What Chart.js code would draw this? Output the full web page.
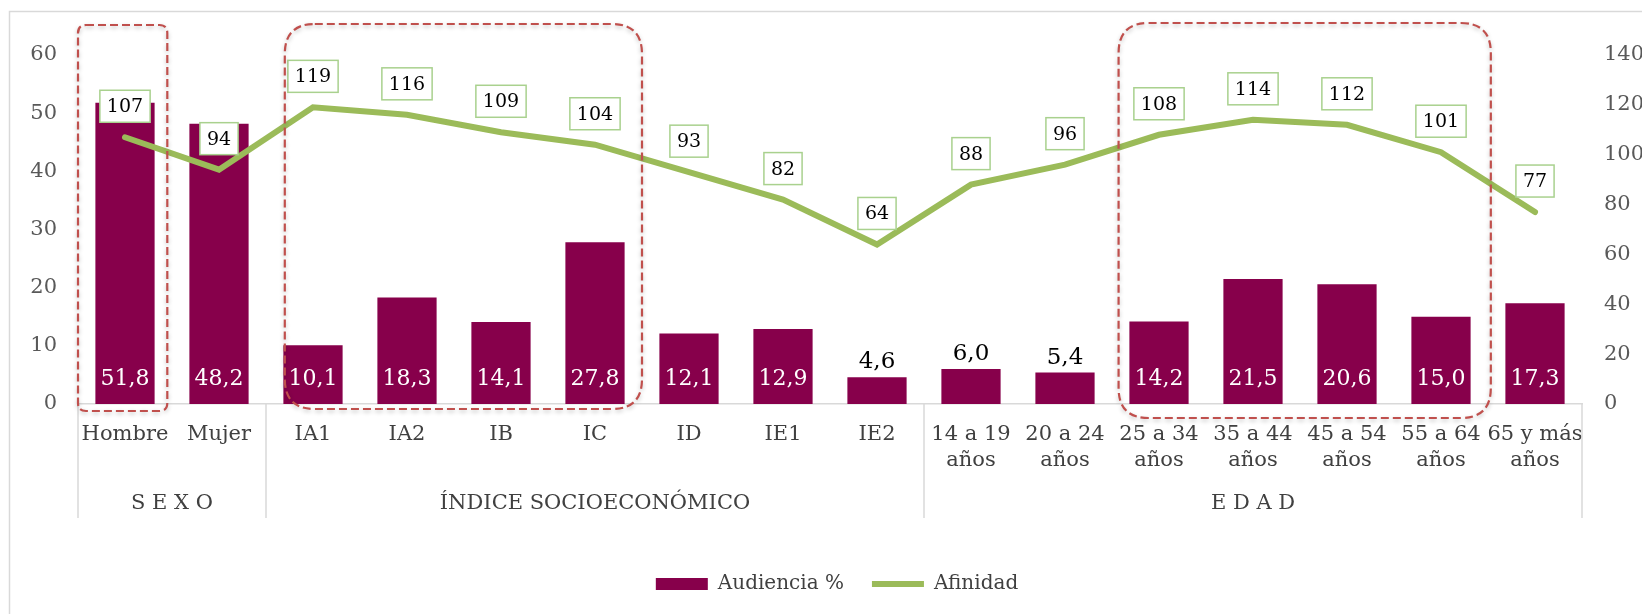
<!DOCTYPE html>
<html>
<head>
<meta charset="utf-8">
<script src="https://cdn.jsdelivr.net/npm/chart.js@4.4.1/dist/chart.umd.min.js"></script>
<style>
  html, body { margin: 0; padding: 0; background: #fff; }
  #wrap { position: relative; width: 1642px; height: 614px; }
</style>
</head>
<body>
<div id="wrap"><canvas id="chart"></canvas></div>
<script>
// data
const categories = ['Hombre', 'Mujer', 'IA1', 'IA2', 'IB', 'IC', 'ID', 'IE1', 'IE2',
    ['14 a 19', 'años'], ['20 a 24', 'años'], ['25 a 34', 'años'], ['35 a 44', 'años'],
    ['45 a 54', 'años'], ['55 a 64', 'años'], ['65 y más', 'años']];
const groupNames = ['S E X O', 'ÍNDICE SOCIOECONÓMICO', 'E D A D'];
const groupSizes = [2, 7, 7];
const audiencia = [51.8, 48.2, 10.1, 18.3, 14.1, 27.8, 12.1, 12.9, 4.6, 6.0, 5.4, 14.2, 21.5, 20.6, 15.0, 17.3];
const afinidad = [107, 94, 119, 116, 109, 104, 93, 82, 64, 88, 96, 108, 114, 112, 101, 77];
const leftTicks = [0, 10, 20, 30, 40, 50, 60];
const rightTicks = [0, 20, 40, 60, 80, 100, 120, 140];
const highlighted = [[0, 0], [2, 5], [11, 14]];

const FONT = "'DejaVu Serif', serif";
const BAR = '#87004B';
const GREEN = '#9BBB59';

// dashed boxes: offsets in category widths, radius in px
const boxStyle = [
    { l: -0.5, r: 0.45, top: 25, bottom: 411, radius: 8 },
    { l: -0.3, r: 0.5, top: 24, bottom: 409, radius: 30 },
    { l: -0.43, r: 0.53, top: 23, bottom: 418, radius: 30 }
];

const fmt = v => v.toFixed(1).replace('.', ',');

function roundRectPath(ctx, x, y, w, h, r) {
    ctx.beginPath();
    ctx.moveTo(x + r, y);
    ctx.lineTo(x + w - r, y);
    ctx.quadraticCurveTo(x + w, y, x + w, y + r);
    ctx.lineTo(x + w, y + h - r);
    ctx.quadraticCurveTo(x + w, y + h, x + w - r, y + h);
    ctx.lineTo(x + r, y + h);
    ctx.quadraticCurveTo(x, y + h, x, y + h - r);
    ctx.lineTo(x, y + r);
    ctx.quadraticCurveTo(x, y, x + r, y);
    ctx.closePath();
}

const frame = {
    id: 'frame',
    beforeDraw(chart) {
        const ctx = chart.ctx;
        ctx.save();
        ctx.fillStyle = '#fff';
        ctx.fillRect(0, 0, chart.width, chart.height);
        ctx.strokeStyle = '#D9D9D9';
        ctx.lineWidth = 1.5;
        ctx.strokeRect(9.5, 11.5, chart.width + 40, chart.height + 40);
        ctx.restore();
    },
    // the original chart frame is wider than the visible part, legend sits off-centre
    afterLayout(chart) {
        chart.legend.left += 16;
        chart.legend.right += 16;
    }
};

const valueLabels = {
    id: 'valueLabels',
    afterDatasetsDraw(chart) {
        const ctx = chart.ctx;
        const bars = chart.getDatasetMeta(0).data;
        const pts = chart.getDatasetMeta(1).data;
        const base = chart.scales.y.getPixelForValue(0);
        ctx.save();
        ctx.textAlign = 'center';
        ctx.textBaseline = 'middle';
        bars.forEach((b, i) => {
            const v = audiencia[i];
            if (v >= 10) {
                ctx.fillStyle = '#fff';
                ctx.font = `22px ${FONT}`;
                ctx.fillText(fmt(v), b.x, base - 25);
            } else {
                ctx.fillStyle = '#000';
                ctx.font = `23px ${FONT}`;
                ctx.fillText(fmt(v), b.x, b.y - 15);
            }
        });
        ctx.font = `19px ${FONT}`;
        pts.forEach((p, i) => {
            const txt = String(afinidad[i]);
            const w = ctx.measureText(txt).width + 14, h = 32, cy = p.y - 31;
            ctx.fillStyle = '#fff';
            ctx.fillRect(p.x - w / 2, cy - h / 2, w, h);
            ctx.strokeStyle = '#A9D18E';
            ctx.lineWidth = 1.5;
            ctx.strokeRect(p.x - w / 2, cy - h / 2, w, h);
            ctx.fillStyle = '#000';
            ctx.fillText(txt, p.x, cy + 1);
        });
        ctx.restore();
    }
};

const groupsAndBoxes = {
    id: 'groupsAndBoxes',
    afterDraw(chart) {
        const ctx = chart.ctx, x = chart.scales.x;
        const n = categories.length, cw = x.width / n;
        const edges = [0];
        groupSizes.forEach(s => edges.push(edges[edges.length - 1] + s));
        ctx.save();
        ctx.strokeStyle = '#D9D9D9';
        ctx.lineWidth = 1.5;
        edges.forEach(i => {
            const px = Math.round(x.left + i * cw);
            ctx.beginPath();
            ctx.moveTo(px, x.top);
            ctx.lineTo(px, x.top + 114);
            ctx.stroke();
        });
        ctx.fillStyle = '#404040';
        ctx.font = `21px ${FONT}`;
        ctx.textAlign = 'center';
        ctx.textBaseline = 'middle';
        groupNames.forEach((g, k) => {
            ctx.fillText(g, x.left + (edges[k] + edges[k + 1]) / 2 * cw, x.top + 100);
        });

        // red dashed highlight boxes
        ctx.strokeStyle = '#C0504D';
        ctx.lineWidth = 2.2;
        ctx.setLineDash([8, 4]);
        ctx.shadowColor = 'rgba(0,0,0,0.25)';
        ctx.shadowBlur = 4;
        ctx.shadowOffsetY = 2;
        highlighted.forEach(([a, b], k) => {
            const s = boxStyle[k];
            const left = x.getPixelForValue(a) + s.l * cw;
            const right = x.getPixelForValue(b) + s.r * cw;
            roundRectPath(ctx, left, s.top, right - left, s.bottom - s.top, s.radius);
            ctx.stroke();
        });
        ctx.restore();
    }
};

Chart.defaults.font.family = FONT;

new Chart(document.getElementById('chart'), {
    type: 'bar',
    data: {
        labels: categories,
        datasets: [{
            type: 'bar',
            label: 'Audiencia %',
            data: audiencia,
            backgroundColor: BAR,
            borderWidth: 0,
            categoryPercentage: 1,
            barPercentage: 0.63,
            pointStyle: 'rect',
            yAxisID: 'y',
            order: 1
        }, {
            type: 'line',
            label: 'Afinidad',
            data: afinidad,
            borderColor: GREEN,
            backgroundColor: GREEN,
            borderWidth: 6,
            borderCapStyle: 'round',
            pointRadius: 0,
            pointStyle: 'line',
            tension: 0,
            yAxisID: 'y1',
            order: 0
        }]
    },
    options: {
        responsive: true,
        maintainAspectRatio: false,
        animation: false,
        layout: { padding: { top: 55, bottom: 10, left: 0, right: 0 } },
        plugins: {
            tooltip: { enabled: false },
            legend: {
                position: 'bottom',
                labels: {
                    usePointStyle: true,
                    pointStyleWidth: 52,
                    boxHeight: 12,
                    padding: 28,
                    color: '#404040',
                    font: { size: 20, family: FONT },
                    sort: (a, b) => a.datasetIndex - b.datasetIndex
                }
            }
        },
        scales: {
            x: {
                offset: true,
                grid: { display: false, drawTicks: false },
                border: { display: true, color: '#D9D9D9', width: 1.5 },
                ticks: {
                    color: '#404040',
                    font: { size: 21, family: FONT, lineHeight: 1.25 },
                    padding: 17,
                    autoSkip: false,
                    maxRotation: 0
                },
                afterFit: s => { s.height = 142; }
            },
            y: {
                position: 'left',
                min: leftTicks[0],
                max: leftTicks[leftTicks.length - 1],
                ticks: { stepSize: leftTicks[1] - leftTicks[0], color: '#595959', font: { size: 21 }, padding: 21 },
                grid: { display: false, drawTicks: false },
                border: { display: false },
                afterFit: s => { s.width = 78; }
            },
            y1: {
                position: 'right',
                min: rightTicks[0],
                max: rightTicks[rightTicks.length - 1],
                ticks: { stepSize: rightTicks[1] - rightTicks[0], color: '#595959', font: { size: 21 }, padding: 22 },
                grid: { display: false, drawTicks: false },
                border: { display: false },
                afterFit: s => { s.width = 60; }
            }
        }
    },
    plugins: [frame, valueLabels, groupsAndBoxes]
});
</script>
</body>
</html>
